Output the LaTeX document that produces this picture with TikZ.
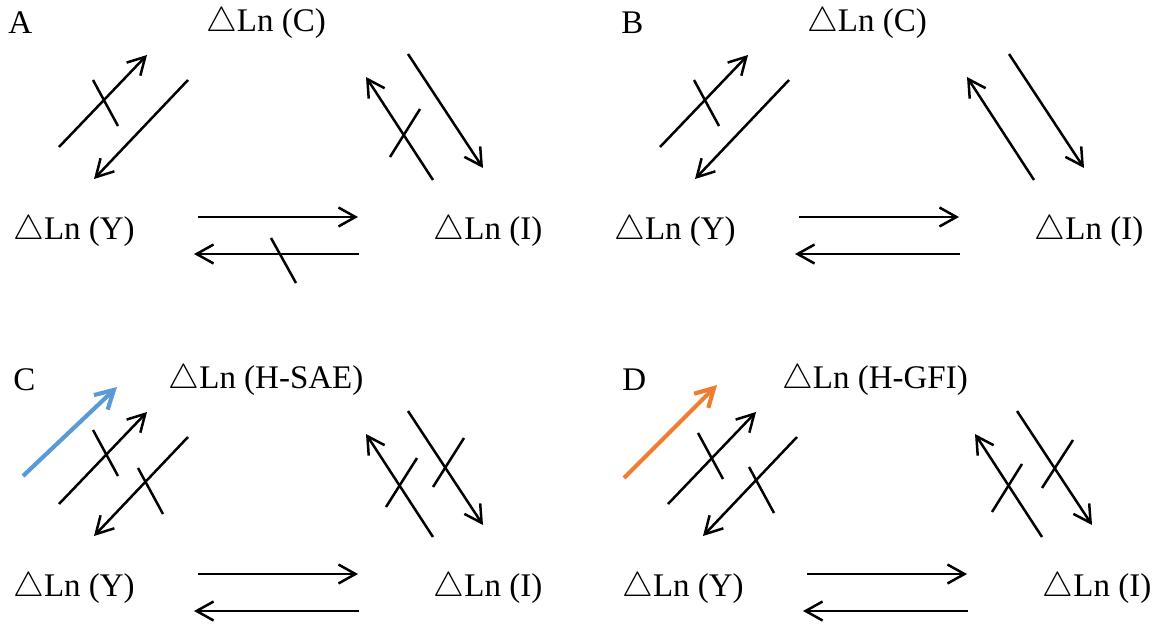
\documentclass[tikz,border=0pt]{standalone}
\usepackage{fontspec}
\setmainfont{Liberation Serif}
\usetikzlibrary{arrows.meta}
\definecolor{saeblue}{RGB}{91,155,213}
\definecolor{gfiorange}{RGB}{237,125,49}

\begin{document}
\begin{tikzpicture}[x=0.5pt,y=-0.5pt,
    every node/.style={font=\fontsize{16.5}{19}\selectfont,inner sep=0pt},
    flow/.style={line width=1.25pt,-{Straight Barb[length=8.5pt,width=9.5pt]}},
    blockbar/.style={line width=1.25pt},
    hint/.style={line width=2.1pt,-{Straight Barb[length=9pt,width=10pt]}}]
  \useasboundingbox (0,0) rectangle (1154,625);
  % four panels, same triangle of arrows
  \foreach \p/\dx/\dy/\lx/\top in {A/0/0/8/C, B/601/0/20/C, C/0/357/13/H-SAE, D/609/357/13/H-GFI} {
    \begin{scope}[shift={(\dx,\dy)}]
      \node[anchor=west] (\p-tag) at (\lx,23) {\p};
      \node (\p-top) at (266,23) {$\triangle$Ln (\top)};
      \node (\p-Y) at (74,231) {$\triangle$Ln (Y)};
      \node (\p-I) at (488,231) {$\triangle$Ln (I)};
      \coordinate (\p-yc0) at (59,147);  \coordinate (\p-yc1) at (147,55);
      \coordinate (\p-cy0) at (188,80);  \coordinate (\p-cy1) at (94,179);
      \coordinate (\p-ic0) at (433,180); \coordinate (\p-ic1) at (366,77);
      \coordinate (\p-ci0) at (408,54);  \coordinate (\p-ci1) at (483,168);
      \coordinate (\p-yi0) at (198,217); \coordinate (\p-yi1) at (358,217);
      \coordinate (\p-iy0) at (359,254); \coordinate (\p-iy1) at (194,254);
      \draw[flow] (\p-yc0) -- (\p-yc1);
      \draw[flow] (\p-cy0) -- (\p-cy1);
      \draw[flow] (\p-ic0) -- (\p-ic1);
      \draw[flow] (\p-ci0) -- (\p-ci1);
      \draw[flow] (\p-yi0) -- (\p-yi1);
      \draw[flow] (\p-iy0) -- (\p-iy1);
    \end{scope}
  }
  % coloured arrows
  \coordinate (C-h0) at (23,476);  \coordinate (C-h1) at (117,387);
  \coordinate (D-h0) at (624,478); \coordinate (D-h1) at (717,385);
  \draw[hint,saeblue] (C-h0) -- (C-h1);
  \draw[hint,gfiorange] (D-h0) -- (D-h1);
  % blocked paths
  \draw[blockbar] (93,80) -- (118,126);
  \draw[blockbar] (420,109) -- (390,157);
  \draw[blockbar] (271,238) -- (296,283);
  \draw[blockbar] (694,80) -- (719,126);
  \draw[blockbar] (93,430) -- (118,476);
  \draw[blockbar] (138,468) -- (163,514);
  \draw[blockbar] (417,458) -- (386,507);
  \draw[blockbar] (464,438) -- (433,487);
  \draw[blockbar] (698,433) -- (723,479);
  \draw[blockbar] (749,467) -- (774,513);
  \draw[blockbar] (1022,464) -- (992,512);
  \draw[blockbar] (1073,440) -- (1042,488);
\end{tikzpicture}
\end{document}
